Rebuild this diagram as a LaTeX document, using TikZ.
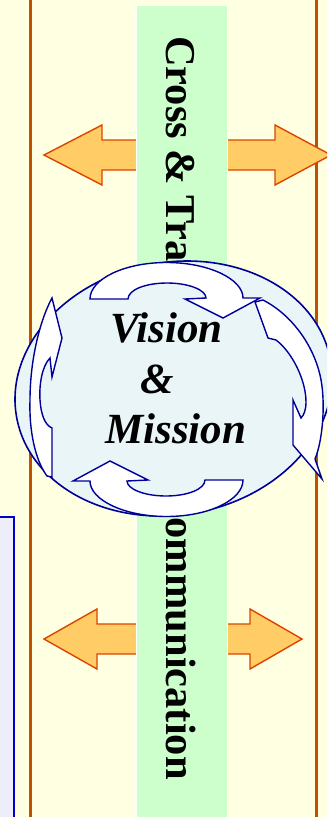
\documentclass[tikz,border=0pt]{standalone}
\usepackage{fontspec}
\setmainfont{Liberation Serif}
\definecolor{bgyellow}{RGB}{255,255,225}
\definecolor{brownline}{RGB}{190,80,0}
\definecolor{stripgreen}{RGB}{204,255,204}
\definecolor{arrowfill}{RGB}{255,204,102}
\definecolor{arrowline}{RGB}{221,68,0}
\definecolor{ellfill}{RGB}{234,245,248}
\definecolor{navy}{RGB}{0,0,153}
\definecolor{lavender}{RGB}{238,238,250}
\definecolor{boxblue}{RGB}{0,0,204}
\begin{document}
\begin{tikzpicture}[x=1bp,y=-1bp,
  rail/.style={draw=brownline,line width=3bp},
  dblarrow/.style={fill=arrowfill,draw=arrowline,line width=1.4bp,line join=miter},
  cyc/.style={fill=white,draw=navy,line width=1.4bp,line join=miter},
  vmtext/.style={anchor=base west,inner sep=0pt,font=\fontsize{43bp}{50bp}\selectfont\bfseries\itshape}]
\useasboundingbox (0,0) rectangle (327,817);
\clip (0,0) rectangle (327,817);
\fill[bgyellow] (0,0) rectangle (327,817);
% left lavender box
\draw[fill=lavender,draw=boxblue,line width=1.3bp] (-5,517) rectangle (14,825);
% brown rails
\draw[rail] (30,-5) -- (30,825);
\draw[rail] (316.5,-5) -- (316.5,825);
% double arrows
\draw[dblarrow] (44,155) -- (102,125) -- (102,140) -- (275,140) -- (275,125) -- (331,155)
  -- (275,185) -- (275,170) -- (102,170) -- (102,185) -- cycle;
\draw[dblarrow] (44,639) -- (97,609) -- (97,624) -- (250,624) -- (250,609) -- (302,639)
  -- (250,669) -- (250,654) -- (97,654) -- (97,669) -- cycle;
% green strip
\draw[fill=stripgreen,draw=white,line width=0.8bp] (136,5) rectangle (227,825);
\node[rotate=-90,anchor=base west,inner sep=0pt,
  font=\fontsize{42.5bp}{50bp}\selectfont\bfseries] (cross) at (166,36)
  {Cross \& Transparent\hspace{66bp}Communication};
% ellipse
\draw[fill=ellfill,draw=navy,line width=1.6bp,rotate around={10.6:(173.5,388.5)}]
  (173.5,388.5) ellipse [x radius=159.5, y radius=126.2];
% cycle arrows
\path[cyc] (90,299) .. controls (90,279.1) and (124.25,262.5) .. (166.5,262.5)
  .. controls (208.75,262.5) and (243,279.1) .. (243,298) -- (260,298) -- (223,318)
  -- (185,299) -- (206,298) .. controls (206,289.9) and (188.5,283) .. (167,283)
  .. controls (145.5,283) and (128,289.9) .. (128,299) -- cycle;
\begin{scope}[rotate around={180:(166.5,389.5)}]
\path[cyc] (90,299) .. controls (90,279.1) and (124.25,262.5) .. (166.5,262.5)
  .. controls (208.75,262.5) and (243,279.1) .. (243,298) -- (260,298) -- (223,318)
  -- (185,299) -- (206,298) .. controls (206,289.9) and (188.5,283) .. (167,283)
  .. controls (145.5,283) and (128,289.9) .. (128,299) -- cycle;
\end{scope}
\path[cyc] (263,300) -- (255,302) -- (268,338) -- (276,340)
  .. controls (292,352) and (306,380) .. (306,402)
  .. controls (306,410) and (304,415) .. (301,418) -- (293,400) -- (293,445) -- (322,479)
  -- (315,459) .. controls (323,440) and (326,400) .. (320,375)
  .. controls (313,345) and (292,315) .. (263,300) -- cycle;
\path[cyc] (52,298) -- (62,338) -- (52,377) -- (50,358)
  .. controls (42,366) and (39,385) .. (40,400)
  .. controls (41,415) and (45,425) .. (52,428) -- (52,477) -- (47,476)
  .. controls (35,460) and (29,430) .. (30,400)
  .. controls (30,360) and (40,320) .. (52,298) -- cycle;
% Vision & Mission
\node[vmtext] (vision) at (110,342) {Vision};
\node[vmtext] (amp) at (140,393) {\&};
\node[vmtext] (mission) at (105,443) {Mission};
\end{tikzpicture}
\end{document}
